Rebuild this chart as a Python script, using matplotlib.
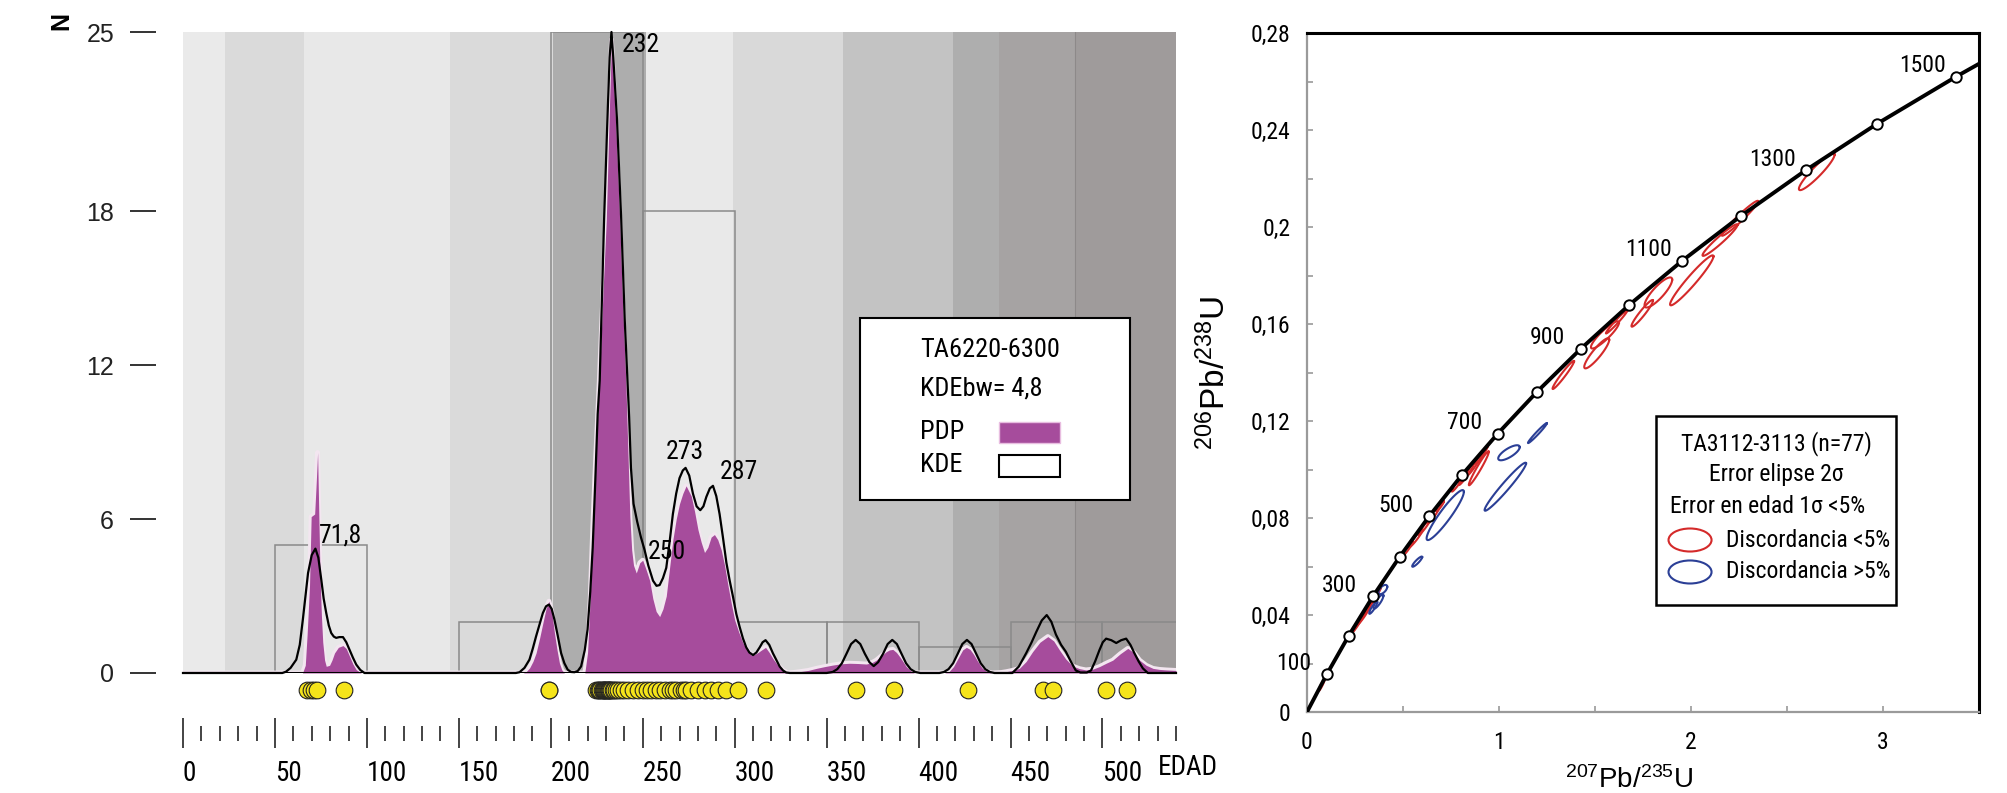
import numpy as np
import matplotlib
matplotlib.use("Agg")
import matplotlib.pyplot as plt
from matplotlib import font_manager
from matplotlib.patches import Rectangle, Ellipse
from matplotlib.transforms import blended_transform_factory

# look for a narrow / condensed sans face, else fall back to Liberation Sans
installed = font_manager.fontManager.ttflist
names = {f.name for f in installed}
NARROW, STRETCH = None, "normal"
for cand in ["Liberation Sans Narrow", "Arial Narrow", "Roboto Condensed",
             "Open Sans Condensed", "Noto Sans Condensed", "DejaVu Sans Condensed"]:
    if cand in names:
        NARROW = cand
        break
if NARROW is None:
    for f in installed:
        if (str(f.stretch) in ("condensed", "semi-condensed") and f.style == "normal"
                and str(f.weight) in ("400", "normal", "regular")):
            NARROW, STRETCH = f.name, str(f.stretch)
            break
REG = "Liberation Sans" if "Liberation Sans" in names else "DejaVu Sans"
if NARROW is None:
    NARROW = REG
    k = 0.87   # wider face -> slightly smaller text
else:
    k = 1.0
plt.rcParams["font.family"] = [NARROW, "DejaVu Sans"]
plt.rcParams["font.stretch"] = STRETCH

# ---------------- left panel data (ages in Ma) ----------------
period_edges = [0, 23, 66, 145, 201, 252, 299, 359, 419, 444, 485, 541]
period_colors = ["#eaeaea", "#dadada", "#e8e8e8", "#dadada", "#adadad", "#e9e9e9",
                 "#d9d9d9", "#c3c3c3", "#aeaeae", "#a6a3a3", "#9f9b9b"]

hist_edges = [0, 50, 100, 150, 200, 250, 300, 350, 400, 450, 500]
hist_counts = [0, 5, 0, 2, 25, 18, 2, 2, 1, 2, 2]

kde_age = [0, 54, 56, 58.5, 61.6, 63.5, 65.2, 66.6, 68, 70, 72, 73.6, 75.2, 76.5, 77.9,
           79.3, 80.6, 82, 83.3, 85, 87, 88.8, 90.6, 92.4, 94.2, 96.4, 98.7,
           181, 183, 185.7, 188.4, 190.2, 192, 193.9, 195.7, 197.4, 199, 200.5, 202,
           203.8, 205.6, 207.4, 209.2, 211, 212.9, 214.7, 216.5, 218.5, 220, 221.5,
           222.8, 224.2, 225.5, 226.6, 227.8, 229, 230.8, 232, 233, 234, 236, 238.3,
           240.2, 241.7, 242.6, 243.6, 245, 247, 249, 251, 253, 255.6, 257.5, 259.2,
           261, 262.8, 264.6, 266.4, 268.2, 270, 271.8, 273.3, 275.3, 277.3, 279.3,
           281.3, 283, 284.6, 286.5, 288.2, 290, 291.8, 293.6, 295.5, 297.3, 299.1,
           300.9, 302.7, 304.5, 306.3, 308, 310, 311.8, 313.6, 315.2, 316.8, 318.8,
           320.8, 322.7, 324.5, 326.3, 328, 330, 350, 353.3, 355.8, 358.3, 360.8,
           363.3, 365.8, 368.3, 370.8, 373.3, 375.6, 378, 380.7, 383.2, 385.7, 388.2,
           390.7, 393.2, 395.7, 398.2, 401, 411.3, 413.8, 416.3, 418.8, 421.3, 423.8,
           426.3, 428.8, 431.3, 433.8, 436.3, 438.8, 441.3, 451, 454.5, 458.5, 461.5,
           464, 467, 469.7, 472.2, 474.7, 477.5, 480.1, 482.8, 485.5, 488, 491.5,
           493.8, 496, 498.4, 500.2, 502, 504.8, 507.5, 510.2, 512.9, 515.2, 517.4,
           519.7, 522, 524.7, 540]
kde_val = [0, 0, 0.05, 0.2, 0.52, 1.1, 2.1, 3.0, 3.9, 4.6, 4.85, 4.5, 3.64, 2.9, 2.34,
           1.85, 1.56, 1.42, 1.37, 1.4, 1.4, 1.2, 0.9, 0.6, 0.33, 0.12, 0,
           0, 0.03, 0.2, 0.52, 0.95, 1.43, 1.9, 2.34, 2.6, 2.67, 2.5, 2.08,
           1.45, 0.78, 0.38, 0.13, 0.04, 0.03, 0.08, 0.26, 0.9, 1.7, 3.2,
           4.9, 7.5, 10.1, 11.4, 14.5, 17.7, 21.6, 24, 25, 24, 21.6, 17.7,
           13.8, 11.4, 10, 8, 6.6, 5.9, 5.3, 4.8, 4.2, 3.6, 3.4, 3.43,
           3.7, 4.1, 5.1, 6.2, 7.0, 7.6, 7.9, 8.0, 7.7, 7.0, 6.5,
           6.35, 6.5, 6.87, 7.2, 7.3, 6.9, 6.2, 5.3, 4.3, 3.6, 2.97,
           2.3, 1.8, 1.35, 1.0, 0.8, 0.7, 0.8, 1.0, 1.2, 1.28, 1.1,
           0.77, 0.5, 0.25, 0.1, 0.02, 0, 0, 0.04, 0.15, 0.38, 0.75,
           1.13, 1.29, 1.13, 0.75, 0.42, 0.27, 0.42, 0.75, 1.13, 1.29, 1.13,
           0.75, 0.38, 0.15, 0.04, 0, 0, 0.04, 0.15, 0.38, 0.75, 1.13,
           1.29, 1.13, 0.75, 0.38, 0.15, 0.04, 0, 0, 0.25, 0.77, 1.2,
           1.6, 2.05, 2.26, 2.0, 1.5, 1.1, 0.83, 0.45, 0.1, 0.02, 0.02,
           0.1, 0.45, 0.9, 1.2, 1.34, 1.28, 1.17, 1.28, 1.34, 1.1, 0.77,
           0.45, 0.18, 0, 0]

pdp_age = [0, 65, 66.5, 67.5, 68.8, 69.7, 71.6, 72.5, 73.2, 73.9, 74.6, 75.3, 76, 77,
           77.9, 79.7, 81, 82.4, 84.5, 87, 88.8, 90.6, 92.4, 94.2, 97,
           185, 186.6, 188.5, 190.3, 192, 193.9, 195.7, 197.4, 199, 200.5, 202, 203.4,
           204.7, 206, 207.4, 218.5, 220, 221.5, 222.8, 224.5, 226.4, 228.5, 230.2,
           231.7, 233, 235.2, 237.5, 239, 240.8, 241.8, 243, 244, 245, 246.5, 248.4,
           250, 252, 253.8, 255.5, 257.3, 259.2, 261, 262.8, 264.6, 266.4, 268.2, 270,
           271.8, 273.6, 275, 276.4, 278.2, 280, 281.8, 283.6, 285.4, 287.2, 289,
           290.8, 292.7, 294.5, 296.4, 298.2, 300, 302.2, 304.5, 306.7, 309, 310.8,
           312.7, 314.7, 316.8, 318.8, 320.8, 323.5, 326.3, 329, 332, 335.3, 340,
           344.4, 349, 353.4, 358, 362.5, 367, 371.6, 374.5, 377, 380, 382.4, 384.2,
           386, 388, 389.7, 391.5, 393.3, 395.5, 397.8, 414, 416.5, 419, 422, 424,
           426, 428, 430, 431.8, 434.5, 437.3, 440, 445, 447.6, 451, 454.8, 458.5,
           462, 466, 470.3, 473.5, 476.6, 480, 483.8, 487.5, 491, 494.7, 498.4, 502,
           505.6, 509.7, 513.8, 517, 520.2, 523.8, 527.5, 531, 534.7, 540]
pdp_val = [0, 0, 0.3, 1.5, 3.4, 6.1, 6.2, 7.5, 8.6, 6.0, 3.6, 2.2, 1.2, 0.5,
           0.26, 0.3, 0.5, 0.78, 1.0, 1.07, 0.95, 0.65, 0.35, 0.13, 0,
           0, 0.05, 0.2, 0.45, 0.78, 1.35, 1.95, 2.5, 2.8, 2.4, 1.56, 0.9,
           0.39, 0.12, 0, 0, 0.8, 3.0, 5.6, 8.5, 11.4, 15.0, 17.7,
           21.6, 24.7, 21.6, 17.7, 14.5, 11.4, 9.0, 6.1, 4.8, 4.2, 3.9, 4.3,
           4.4, 4.0, 3.6, 2.9, 2.4, 2.2, 2.5, 3.0, 4.1, 5.2, 6.0, 6.6,
           7.0, 7.3, 7.1, 6.9, 6.3, 5.6, 5.1, 4.7, 4.9, 5.3, 5.4,
           5.2, 4.8, 4.2, 3.4, 2.7, 2.07, 1.6, 1.17, 0.9, 0.7, 0.72,
           0.8, 0.9, 1.0, 0.8, 0.56, 0.3, 0.1, 0, 0.02, 0.05, 0.1,
           0.18, 0.25, 0.31, 0.36, 0.38, 0.37, 0.35, 0.4, 0.5, 0.68, 0.83, 0.9,
           0.92, 0.8, 0.64, 0.45, 0.25, 0.1, 0, 0, 0.05, 0.25, 0.64, 0.9,
           1.0, 0.92, 0.72, 0.5, 0.2, 0.05, 0, 0.02, 0.05, 0.1, 0.18, 0.45,
           0.83, 1.2, 1.42, 1.25, 0.9, 0.55, 0.27, 0.17, 0.12, 0.15, 0.25, 0.38,
           0.5, 0.75, 0.96, 0.8, 0.5, 0.3, 0.18, 0.14, 0.12, 0.1]

grain_ages = [67.5, 69.5, 71.5, 73, 87.5, 198.8, 199.3,
              224.5, 225.5, 226.3, 227, 227.6, 228.2, 228.8, 229.1, 229.4, 230, 230.6,
              231.2, 231.5, 231.8, 232.4, 233, 233.7, 234.5, 235.5, 236.8, 238.2, 240,
              242, 244.5, 247.5,
              250.2, 252.5, 254.7, 257, 259.2, 262, 264.7, 266.5, 268.3, 271, 272.5,
              273.8, 276.5, 280, 283.7, 287.3, 291, 295.5,
              301.8, 317.2, 365.8, 386.4, 426.8, 467.6, 473, 502, 513.5]

peak_text = ["71,8", "232", "250", "273", "287"]

# ---------------- right panel data (Wetherill concordia) ----------------
conc_age = [0, 100, 200, 300, 400, 500, 600, 700, 800, 900, 1000, 1100, 1200, 1300, 1400, 1500]
conc_x = [0, 0.1035, 0.2177, 0.3437, 0.4828, 0.6362, 0.8056, 0.9925, 1.1988, 1.4264,
          1.6774, 1.9546, 2.2604, 2.5976, 2.9700, 3.3808]
conc_y = [0, 0.0156, 0.0315, 0.0477, 0.0640, 0.0807, 0.0976, 0.1147, 0.1321, 0.1498,
          0.1678, 0.1861, 0.2046, 0.2234, 0.2426, 0.2620]
conc_end_x, conc_end_y = 3.5, 0.2673

# error ellipses: centre, 2-sigma half extents, correlation, discordant (>5%)
ell_x = [0.077, 0.241, 0.262, 0.292, 0.322, 0.357, 0.52, 0.567, 0.612, 0.662, 0.692,
         0.79, 0.832, 0.872, 0.91, 0.895, 1.335, 1.509, 1.552, 1.613, 1.746, 1.83,
         2.004, 2.151, 2.255, 2.655,
         0.345, 0.372, 0.395, 0.574, 0.72, 1.052, 1.033, 1.20]
ell_y = [0.0112, 0.0340, 0.0362, 0.0398, 0.0436, 0.0478, 0.0670, 0.0716, 0.0763, 0.0818,
         0.0850, 0.0950, 0.0985, 0.1022, 0.1060, 0.1005, 0.139, 0.1479, 0.1555, 0.1609,
         0.1644, 0.173, 0.178, 0.1946, 0.2036, 0.2228,
         0.043, 0.0455, 0.0505, 0.062, 0.0812, 0.1069, 0.0929, 0.115]
ell_sx = [0.016, 0.021, 0.031, 0.036, 0.031, 0.026, 0.031, 0.036, 0.031, 0.036, 0.021,
          0.036, 0.042, 0.042, 0.031, 0.052, 0.056, 0.065, 0.073, 0.056, 0.056, 0.072,
          0.113, 0.091, 0.095, 0.093,
          0.021, 0.026, 0.023, 0.026, 0.097, 0.056, 0.108, 0.049]
ell_sy = [0.0025, 0.0025, 0.0037, 0.0041, 0.0037, 0.0033, 0.0033, 0.0037, 0.0033, 0.0041,
          0.0021, 0.0041, 0.0049, 0.0049, 0.0037, 0.0070, 0.0058, 0.0062, 0.0056, 0.0048,
          0.0055, 0.0062, 0.0103, 0.0065, 0.0072, 0.0076,
          0.0025, 0.0029, 0.0019, 0.0021, 0.0103, 0.0031, 0.0099, 0.0041]
ell_rho = [0.95, 0.95, 0.97, 0.95, 0.97, 0.97, 0.96, 0.96, 0.96, 0.95, 0.9,
           0.96, 0.96, 0.96, 0.96, 0.97, 0.97, 0.9, 0.9, 0.98, 0.95, 0.85,
           0.96, 0.96, 0.97, 0.93,
           0.9, 0.85, 0.6, 0.9, 0.93, 0.75, 0.97, 0.98]
ell_disc = [False] * 26 + [True] * 8

PURPLE = "#a64c9c"
RED = "#d42a2a"
BLUE = "#2b3f96"

fig = plt.figure(figsize=(20.08, 7.93), dpi=100)

# ======================= left: KDE / PDP ===========================
axL = fig.add_axes([183 / 2008, 120 / 793, 993 / 2008, 641 / 793])
axL.set_xlim(0, 540)
axL.set_ylim(0, 25)

for a, b, c in zip(period_edges[:-1], period_edges[1:], period_colors):
    axL.axvspan(a, b, facecolor=c, edgecolor="none", zorder=0)
axL.axvline(period_edges[-2], color="#8d8989", lw=0.8, zorder=0.5)

axL.bar(hist_edges, hist_counts, width=50, align="edge", fill=False,
        edgecolor="#8a8a8a", lw=1.1, zorder=1)

axL.plot(pdp_age, pdp_val, color="#f3e6f0", lw=3.5, zorder=2)
axL.fill_between(pdp_age, 0, pdp_val, color=PURPLE, lw=0, zorder=2.2)
axL.plot(kde_age, kde_val, color="black", lw=1.6, zorder=3, clip_on=False)
axL.axhline(0, color="black", lw=2.2, zorder=4)

dots_tr = blended_transform_factory(axL.transData, axL.transAxes)
axL.plot(grain_ages, [-0.026] * len(grain_ages), "o", ls="none", ms=12,
         mfc="#f5e41a", mec="#222222", mew=0.8, transform=dots_tr, clip_on=False, zorder=5)

# peak labels
label_pos = [(85.6, 5.38), (249.2, 24.5), (263.3, 4.7), (273.1, 8.6), (302.4, 7.82)]
for txt, (px, py) in zip(peak_text, label_pos):
    axL.text(px, py, txt, ha="center", va="center", fontsize=18.5 * k, zorder=6)

for s in axL.spines.values():
    s.set_visible(False)
axL.spines["bottom"].set_position(("outward", 43.2))
axL.spines["left"].set_position(("outward", 19.4))
axL.set_xticks(np.arange(0, 501, 50))
axL.set_xticks(np.arange(0, 541, 10), minor=True)
axL.tick_params(axis="x", which="major", direction="inout", length=21.6, width=1.1,
                color="#111111", pad=8.6, labelsize=19.5 * k)
axL.tick_params(axis="x", which="minor", direction="inout", length=10.8, width=1.1,
                color="#111111")
for lbl in axL.get_xticklabels():
    lbl.set_horizontalalignment("left")
axL.set_yticks([0, 6, 12, 18, 25])
axL.tick_params(axis="y", direction="out", length=18.7, width=1.4, color="#333333",
                pad=11.5, labelsize=18, labelcolor="#222222")
for lbl in axL.get_yticklabels():
    lbl.set_fontfamily(REG)

axL.text(0.982, -0.148, "EDAD", transform=axL.transAxes, ha="left", va="center",
         fontsize=19.5 * k)
fig.text(61 / 2008, 1 - 21 / 793, "N", rotation=90, ha="center", va="center",
         fontsize=18, fontweight="bold", family=REG)

# legend box
axL.add_patch(Rectangle((0.6818, 0.2699), 0.2719, 0.2839, transform=axL.transAxes,
                        facecolor="white", edgecolor="black", lw=1.5, zorder=10))
for txt, yy in zip(["TA6220-6300", "KDEbw= 4,8", "PDP", "KDE"],
                   [0.504, 0.4446, 0.376, 0.3245]):
    axL.text(0.742, yy, txt, transform=axL.transAxes, ha="left", va="center",
             fontsize=19 * k, zorder=11)
axL.add_patch(Rectangle((0.8218, 0.3588), 0.0614, 0.0328, transform=axL.transAxes,
                        facecolor=PURPLE, edgecolor="#e8bde0", lw=1.0, zorder=11))
axL.add_patch(Rectangle((0.8218, 0.3058), 0.0614, 0.0343, transform=axL.transAxes,
                        facecolor="white", edgecolor="black", lw=1.5, zorder=11))

# ======================= right: concordia ===========================
axR = fig.add_axes([1307 / 2008, 81 / 793, 672 / 2008, 679 / 793])
axR.set_xlim(0, 3.5)
axR.set_ylim(0, 0.28)

t = np.linspace(0, 2 * np.pi, 120)
for cx, cy, sx, sy, r, disc in zip(ell_x, ell_y, ell_sx, ell_sy, ell_rho, ell_disc):
    ex = cx + sx * np.cos(t)
    ey = cy + sy * (r * np.cos(t) + np.sqrt(1 - r * r) * np.sin(t))
    axR.plot(ex, ey, color=BLUE if disc else RED, lw=1.5, zorder=2)

axR.plot(conc_x + [conc_end_x], conc_y + [conc_end_y], color="black", lw=2.8, zorder=3)
axR.plot(conc_x[1:], conc_y[1:], "o", ls="none", ms=7.5, mfc="white", mec="black",
         mew=1.4, zorder=4)
for age, x, y in zip(conc_age, conc_x, conc_y):
    if age % 200 == 100:
        axR.annotate(str(age), (x, y), xytext=(-24, 8), textcoords="offset points",
                     ha="center", va="center", fontsize=17 * k, zorder=5)

axR.set_xticks([0, 1, 2, 3])
axR.set_xticks([0.5, 1.5, 2.5], minor=True)
axR.set_yticks(np.arange(0, 0.281, 0.04))
axR.set_yticks(np.arange(0.02, 0.28, 0.04), minor=True)
axR.set_yticklabels(["0" if v < 1e-9 else ("%g" % round(v, 2)).replace(".", ",")
                     for v in np.arange(0, 0.281, 0.04)])
axR.tick_params(axis="both", which="both", direction="in", length=4.5, width=1.2,
                color="#9a9a9a", labelsize=17 * k)
axR.tick_params(axis="x", pad=14)
axR.tick_params(axis="y", pad=12)
for side in ("left", "bottom"):
    axR.spines[side].set_color("#9a9a9a")
    axR.spines[side].set_linewidth(1.6)
for side in ("top", "right"):
    axR.spines[side].set_color("black")
    axR.spines[side].set_linewidth(2.2)

axR.set_xlabel(r"$\mathregular{^{207}Pb/^{235}U}$", fontsize=20, family=REG)
axR.xaxis.set_label_coords(0.48, -0.0795)
axR.set_ylabel(r"$\mathregular{^{206}Pb/^{238}U}$", fontsize=24, family=REG)
axR.yaxis.set_label_coords(-0.112, 0.5)

# legend box
axR.add_patch(Rectangle((0.5193, 0.1576), 0.3572, 0.2783, transform=axR.transAxes,
                        facecolor="white", edgecolor="black", lw=1.8, zorder=10))
axR.text(0.698, 0.396, "TA3112-3113 (n=77)", transform=axR.transAxes, ha="center",
         va="center", fontsize=17 * k, zorder=11)
axR.text(0.698, 0.3505, "Error elipse 2σ", transform=axR.transAxes, ha="center",
         va="center", fontsize=17 * k, zorder=11)
axR.text(0.685, 0.302, "Error en edad 1σ <5%", transform=axR.transAxes, ha="center",
         va="center", fontsize=17 * k, zorder=11)
axR.add_patch(Ellipse((0.57, 0.2533), 0.064, 0.0339, transform=axR.transAxes,
                      facecolor="none", edgecolor=RED, lw=1.5, zorder=11))
axR.add_patch(Ellipse((0.57, 0.2062), 0.064, 0.0339, transform=axR.transAxes,
                      facecolor="none", edgecolor=BLUE, lw=1.5, zorder=11))
axR.text(0.6235, 0.2533, "Discordancia <5%", transform=axR.transAxes, ha="left",
         va="center", fontsize=17 * k, zorder=11)
axR.text(0.6235, 0.2062, "Discordancia >5%", transform=axR.transAxes, ha="left",
         va="center", fontsize=17 * k, zorder=11)

fig.savefig("out.png", dpi=100)
